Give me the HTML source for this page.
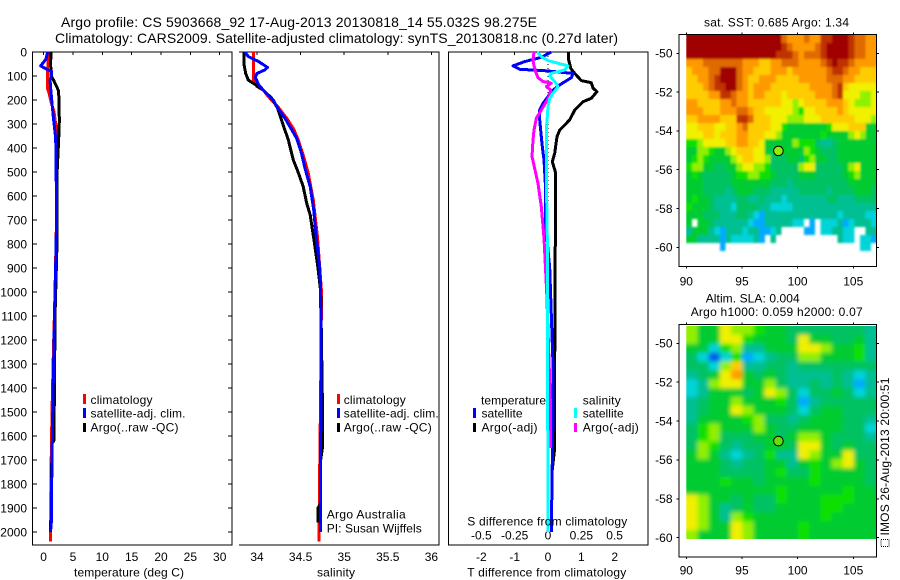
<!DOCTYPE html>
<html><head><meta charset="utf-8"><title>Argo profile</title>
<style>
html,body{margin:0;padding:0;background:#fff}
svg{display:block}
text{font-family:"Liberation Sans",sans-serif;font-size:12px;fill:#000}
.title{font-size:14px}
</style></head>
<body>
<svg id="chart" xmlns="http://www.w3.org/2000/svg" width="900" height="580" viewBox="0 0 900 580">
<defs>
<clipPath id="slaClip"><rect x="686.3" y="326" width="190" height="213"/></clipPath>
<clipPath id="sstClip"><rect x="686.3" y="35" width="190" height="220"/></clipPath>
<filter id="slaBlur" x="-10%" y="-10%" width="120%" height="120%"><feGaussianBlur stdDeviation="2.2"/></filter>
<filter id="sstBlur" x="-5%" y="-5%" width="110%" height="110%"><feGaussianBlur stdDeviation="1.1"/></filter>
</defs>
<rect width="900" height="580" fill="#fff"/>
<text class="title" x="61" y="27" textLength="476" lengthAdjust="spacing">Argo profile: CS 5903668_92 17-Aug-2013 20130818_14 55.032S 98.275E</text>
<text class="title" x="55" y="43" textLength="563" lengthAdjust="spacing">Climatology: CARS2009. Satellite-adjusted climatology: synTS_20130818.nc (0.27d later)</text>
<g id="plots"></g>
<g>
<rect x="83" y="394" width="3" height="10" fill="#f00"/>
<text x="90.5" y="404" textLength="62">climatology</text>
<rect x="83" y="408" width="3" height="10" fill="#00f"/>
<text x="90.5" y="417.5" textLength="95">satellite-adj. clim.</text>
<rect x="83" y="423" width="3" height="9" fill="#000"/>
<text x="90.5" y="431.5" textLength="88">Argo(..raw -QC)</text>
</g>
<g>
<rect x="337" y="394" width="3" height="10" fill="#f00"/>
<text x="343.7" y="404" textLength="62">climatology</text>
<rect x="337" y="408" width="3" height="10" fill="#00f"/>
<text x="343.7" y="417.5" textLength="95">satellite-adj. clim.</text>
<rect x="337" y="423" width="3" height="9" fill="#000"/>
<text x="343.7" y="431.5" textLength="88">Argo(..raw -QC)</text>
<text x="326.7" y="518.5" textLength="79">Argo Australia</text>
<text x="326.7" y="532.5" textLength="95">PI: Susan Wijffels</text>
</g>
<g>
<text x="481" y="404.5" textLength="65">temperature</text>
<rect x="473" y="408" width="3" height="10" fill="#00f"/>
<text x="481.5" y="417.5" textLength="41">satellite</text>
<rect x="473" y="423" width="3" height="9" fill="#000"/>
<text x="481.5" y="431.5" textLength="56">Argo(-adj)</text>
<text x="582.7" y="404.5" textLength="38">salinity</text>
<rect x="574" y="408" width="3" height="10" fill="#0ff"/>
<text x="582.7" y="417.5" textLength="41">satellite</text>
<rect x="574" y="423" width="3" height="9" fill="#f0f"/>
<text x="582.7" y="431.5" textLength="56">Argo(-adj)</text>
</g>
<text x="74" y="576.3" textLength="110">temperature (deg C)</text>
<text x="317" y="576.3" textLength="38">salinity</text>
<text x="467.3" y="576.3" textLength="159">T difference from climatology</text>
<text x="467.3" y="525.3" textLength="160">S difference from climatology</text>
<text x="704" y="26.3" textLength="145">sat. SST: 0.685 Argo: 1.34</text>
<text x="705.7" y="302.3" textLength="94">Altim. SLA: 0.004</text>
<text x="690.7" y="316" textLength="172">Argo h1000: 0.059 h2000: 0.07</text>
<text transform="translate(889,535.5) rotate(-90)" textLength="158">IMOS 26-Aug-2013 20:00:51</text>
<rect x="881" y="539.5" width="8" height="7" fill="none" stroke="#000" stroke-width="1" stroke-dasharray="1 1"/>
</svg>
<script>
// ---- profile data ----
const depthTicks=[0,100,200,300,400,500,600,700,800,900,1000,1100,1200,1300,1400,1500,1600,1700,1800,1900,2000];
const tempTicks=[0,5,10,15,20,25,30];
const salTicks=[34,34.5,35,35.5,36];
const tDiffTicks=[-2,-1,0,1,2];
const sDiffTicks=[-0.5,-0.25,0,0.25,0.5];

const tempClimDepth=[0,60,70,150,170,210,250,300,340,500,700,1000,1300,1500,1700,2040];
const tempClimValue=[0.75,0.75,0.63,0.63,0.92,1.3,1.77,2.06,2.15,2.15,2.2,1.95,1.62,1.43,1.3,1.2];
const tempArgoDepth=[0,50,100,115,150,165,250,280,360,500,830,1100,1400,1620,1630,1770,2000];
const tempArgoValue=[1.26,1.2,1.3,1.65,2.33,2.57,2.63,2.7,2.57,2.3,2.25,1.95,1.85,1.74,1.45,1.35,1.2];
const tempSatDepth=[0,30,58,70,82,100,117,150,200,270,360,617,800,1000,1367,1617,1790,1950,2000];
const tempSatValue=[0.7,0.4,-0.5,0.4,1.38,1.3,1.1,1.2,1.38,1.66,2.06,2.2,2.15,1.95,1.65,1.48,1.38,1.35,1.18];

const salClimDepth=[0,117,144,158,186,228,276,318,367,429,506,617,776,1000,1400,1700,2040];
const salClimValue=[33.958,33.958,34.0,34.07,34.13,34.24,34.34,34.416,34.474,34.53,34.588,34.646,34.695,34.74,34.73,34.72,34.71];
const salArgoDepth=[0,50,89,117,135,158,193,235,305,367,450,499,561,630,679,776,900,1000,1460,1650,1700,1880,1900,1960];
const salArgoValue=[33.85,33.85,33.87,33.9,33.977,34.07,34.17,34.237,34.3,34.36,34.416,34.47,34.53,34.57,34.61,34.65,34.7,34.73,34.75,34.75,34.73,34.73,34.7,34.7];
const salSatDepth=[0,19,40,64,75,89,105,137,158,179,203,235,276,325,360,422,485,561,658,776,900,1000,1367,2000];
const salSatValue=[33.86,33.9,34.02,34.12,34.09,34.0,33.98,34.02,34.07,34.13,34.19,34.24,34.32,34.4,34.455,34.51,34.55,34.61,34.65,34.68,34.72,34.73,34.734,34.726];

const tDiffSatDepth=[0,22,40,58,72,78,89,107,137,165,186,214,242,283,353,394,450,547,721,900,1300,1500,2000];
const tDiffSatValue=[0.1,-0.2,-0.7,-1.05,-0.85,-0.1,0.75,0.7,0.35,0.1,0,-0.15,-0.25,-0.25,-0.2,-0.17,-0.12,-0.08,-0.07,0.05,0.15,0.15,0.1];
const tDiffArgoDepth=[0,33,68,89,119,128,151,165,193,207,242,283,325,353,422,457,499,776,1300,1650,1750];
const tDiffArgoValue=[0.62,0.62,0.68,0.8,1.0,1.3,1.35,1.47,1.3,1.05,0.8,0.65,0.35,0.27,0.2,0.13,0.22,0.22,0.2,0.2,0.12];
const sDiffSatDepth=[0,19,36,58,75,89,100,123,144,172,193,228,325,506,776,2000];
const sDiffSatValue=[-0.08,-0.05,0,0.15,0.125,0.025,0.0125,0.05,0.075,0.0375,0.0125,0,-0.0125,-0.0125,-0.005,0];
const sDiffArgoDepth=[0,33,58,79,107,123,130,144,158,179,207,242,276,325,367,436,485,547,644,776,1000,1500,1650];
const sDiffArgoValue=[-0.105,-0.1125,-0.105,-0.095,-0.075,-0.0375,0.025,-0.0125,0.02,0.0125,-0.0125,-0.05,-0.0875,-0.105,-0.1125,-0.12,-0.1,-0.075,-0.05,-0.03,-0.01,0.02,0.02];

// ---- map data: colour-level per grid cell, null = no data ----
const _=null;
const mapLonTicks=[90,95,100,105];
const mapLatTicks=[-50,-52,-54,-56,-58,-60];
const floatLon=98.275;
const floatLat=-55.03;
const sstLevels=[
[13,13,13,13,13,13,13,13,13,13,13,13,13,13,13,13,13,11,10,10,10,11,10,10,12,12,13,13,13,12,11,11,10,10],
[13,13,13,13,13,13,13,13,13,13,13,13,13,13,13,13,13,12,11,10,10,10,10,11,12,13,13,13,13,12,11,11,10,10],
[13,13,13,13,13,13,13,13,13,13,13,13,13,13,13,13,12,12,12,11,10,11,11,11,12,13,13,13,13,12,11,11,10,10],
[10,10,10,11,11,11,11,11,11,11,10,10,10,9,9,10,10,11,11,11,10,10,10,10,11,12,13,12,12,11,10,10,10,10],
[9,10,10,10,11,11,13,13,13,11,10,10,9,9,9,10,10,10,9,10,10,10,10,10,10,11,12,12,11,10,10,9,9,9],
[9,9,10,10,11,12,13,13,13,11,10,9,9,10,10,10,9,9,9,9,10,10,10,10,10,11,11,11,10,10,9,9,9,9],
[9,9,9,10,11,12,12,13,13,11,10,9,10,10,10,9,9,9,9,9,9,9,10,10,10,10,11,12,9,8,8,8,8,8],
[9,9,9,9,10,10,12,12,11,10,10,9,10,10,9,9,9,8,9,9,9,9,9,10,10,10,11,12,8,8,8,7,7,8],
[10,10,9,9,9,9,10,10,11,10,10,9,9,9,9,9,9,8,8,7,8,9,9,9,9,10,10,10,9,8,7,7,7,8],
[10,10,10,9,9,9,10,10,10,11,11,10,9,9,8,8,8,8,8,7,6,8,8,9,9,9,9,10,9,8,8,8,8,8],
[9,9,10,10,10,10,9,9,9,12,12,11,9,9,9,8,8,8,7,7,7,8,8,8,9,9,9,9,9,9,8,8,8,7],
[8,8,9,9,9,8,8,9,9,10,11,9,9,9,9,8,8,6,5,5,5,5,5,5,5,6,8,8,8,9,9,9,5,5],
[8,8,8,9,9,8,9,9,9,10,10,9,9,9,8,8,7,5,5,5,5,5,5,5,6,5,5,5,5,7,8,7,5,5],
[6,6,7,8,8,8,8,9,9,10,10,9,9,8,5,5,5,5,5,7,6,6,6,4,3,3,4,5,5,5,5,5,5,5],
[5,5,7,7,6,5,5,7,8,9,9,9,8,8,5,4,4,5,5,5,5,7,6,5,4,4,4,5,5,5,5,5,5,5],
[5,6,7,6,5,5,5,5,7,8,9,9,8,8,7,4,4,4,5,5,4,6,7,5,5,4,4,5,5,5,5,5,5,5],
[6,7,7,5,5,4,4,5,5,7,8,8,7,7,6,4,4,4,4,4,7,8,8,4,4,4,4,4,5,7,8,5,5,5],
[5,6,5,4,4,4,4,4,5,6,6,7,7,6,6,5,4,4,4,4,5,5,5,4,4,4,4,4,5,6,7,5,5,5],
[5,5,5,4,4,4,4,4,5,5,5,5,5,5,5,4,4,4,3,4,4,4,4,4,4,4,4,4,4,5,5,5,5,5],
[5,5,5,4,4,4,4,3,4,5,5,5,4,4,4,3,3,3,3,3,4,4,4,4,4,3,4,4,4,4,5,5,5,4],
[5,6,5,5,4,3,3,3,3,4,4,3,3,4,3,3,3,2,3,3,3,3,3,3,3,4,4,3,3,3,4,4,4,4],
[6,5,5,5,4,3,3,3,2,4,4,4,4,3,3,2,2,2,2,3,3,3,3,3,3,3,3,3,3,3,3,3,3,3],
[5,5,5,4,4,4,3,3,3,4,4,3,2,1,3,3,3,3,3,3,3,3,3,3,3,3,3,2,3,3,3,3,2,2],
[5,_,5,5,4,3,3,3,3,3,3,2,1,1,3,3,3,3,3,2,2,_,1,_,2,2,2,3,1,2,3,3,3,2],
[3,5,5,5,3,2,1,3,3,3,2,3,3,1,1,2,3,_,_,_,_,1,1,_,2,2,3,3,2,2,_,_,3,3],
[5,5,3,3,3,3,1,3,2,2,2,2,3,1,_,3,_,_,_,_,_,_,_,_,_,_,_,3,2,2,_,2,2,1],
[_,_,_,_,_,_,1,_,_,_,_,_,_,_,_,_,_,_,_,_,_,_,_,_,_,_,_,_,_,_,_,2,2,_]
];
const slaLevels=[
[7,5,5,8,7,7,6,5,5,4,4,4,4,4,4,4,3],
[7,5,5,8,8,6,5,5,5,4,8,5,5,4,4,5,3],
[5,5,2,6,7,3,3,5,5,5,8,8,7,5,5,6,3],
[4,2,0,2,6,1,2,3,4,4,7,7,5,5,5,6,3],
[4,4,2,7,9,3,3,4,4,3,4,4,4,4,4,4,4],
[3,4,5,8,10,5,4,5,4,3,3,3,3,4,3,2,3],
[2,3,7,8,8,5,5,7,4,3,3,4,3,4,3,1,3],
[2,3,5,5,5,4,5,8,7,4,2,4,4,5,4,2,3],
[3,4,5,5,7,5,5,5,6,4,1,3,4,4,4,4,4],
[3,4,5,5,8,7,5,5,5,4,2,4,5,5,4,4,4],
[3,5,5,5,5,6,7,4,4,3,4,5,5,5,4,4,3],
[4,6,7,5,5,5,7,5,4,4,5,5,5,5,4,4,2],
[4,6,7,4,4,4,5,5,4,5,7,7,5,4,4,4,3],
[4,7,6,4,3,4,4,5,5,4,8,8,5,4,5,4,4],
[5,7,5,3,2,3,4,6,3,3,8,7,5,5,8,4,4],
[5,5,5,4,3,4,4,5,5,3,5,6,5,7,8,5,4],
[5,5,5,4,4,4,4,5,6,4,4,6,5,5,5,5,4],
[5,5,5,6,5,5,4,5,5,5,5,6,5,5,5,5,4],
[5,5,5,5,5,5,5,5,6,5,5,5,5,5,6,5,5],
[8,7,5,5,4,5,4,4,6,5,5,5,6,6,6,5,5],
[8,7,5,3,4,5,4,4,5,5,5,5,6,6,5,5,5],
[8,7,5,3,7,6,5,5,5,5,5,5,6,5,5,5,5],
[8,7,5,5,8,7,5,5,5,5,6,5,5,5,5,5,5],
[7,5,5,5,8,7,5,5,5,5,6,5,5,5,5,5,5]
];
const levelColors=["#0058e8","#00aaff","#00d4d8","#00bf92","#00c262","#00cc30","#10e000","#90f000","#f0f000","#ffcc00","#ff9900","#e06a00","#c03000","#a00000"];

// ---- axis functions ----
const NS="http://www.w3.org/2000/svg";
const plots=document.getElementById("plots");
const yDepth=d=>52+0.24*d;
const xTemp=t=>43.6+5.87*t;
const xSal=s=>257+87.2*(s-34);
const xTDiff=t=>548+33.33*t;
const xSDiff=s=>548+133.3*s;
const xLon1=lon=>686.3+11.13*(lon-90);
const yLat1=lat=>53.3-19.4*(lat+50);
const yLat2=lat=>343.3-19.44*(lat+50);

function mk(tag,attrs,parent){
  const el=document.createElementNS(NS,tag);
  for(const k in attrs)el.setAttribute(k,attrs[k]);
  (parent||plots).appendChild(el);
  return el;
}
function seg(x1,y1,x2,y2,parent){
  return mk("line",{x1:x1,y1:y1,x2:x2,y2:y2,stroke:"#000","stroke-width":1,"shape-rendering":"crispEdges"},parent);
}
function txt(x,y,str,anchor,parent){
  const el=mk("text",{x:x,y:y,"text-anchor":anchor},parent);
  el.textContent=str;
  return el;
}
function profile(values,depths,xf,color,width,parent){
  const pts=values.map((v,i)=>xf(v).toFixed(1)+","+yDepth(depths[i]).toFixed(1)).join(" ");
  return mk("polyline",{points:pts,fill:"none",stroke:color,"stroke-width":width,"shape-rendering":"crispEdges","stroke-linejoin":"round"},parent);
}

// frames
const g1=mk("g",{});


const g2=mk("g",{});


const g3=mk("g",{});


const g4=mk("g",{});


const g5=mk("g",{});



// depth ticks + labels (panel 1)
depthTicks.forEach(d=>{
  const y=yDepth(d);
  const a=seg(33,y,37,y,g1);
  
  
  const b=seg(228,y,232,y,g1);
  
  
  const l=txt(27,y+4.3,String(d),"end",g1);
  
  
});
tempTicks.forEach(t=>{
  const x=xTemp(t);
  const a=seg(x,52,x,55,g1);
  
  
  const l=txt(x,561,String(t),"middle",g1);
  
  
});
salTicks.forEach(s=>{
  const x=xSal(s);
  const a=seg(x,52,x,55,g2);
  
  
  const l=txt(x,561,String(s),"middle",g2);
  
  
});
tDiffTicks.forEach(t=>{
  const x=xTDiff(t);
  const a=seg(x,52,x,55,g3);
  
  
  const l=txt(x,561,String(t),"middle",g3);
  
  
});
sDiffTicks.forEach(s=>{
  const l=txt(xSDiff(s),539.3,String(s),"middle",g3);
  
  
});

// frames of the profile panels
const f1=mk("rect",{x:32.5,y:52,width:199.5,height:493,fill:"none",stroke:"#000","stroke-width":1,"shape-rendering":"crispEdges"},g1);


const f2=mk("path",{d:"M239 52H439V545H239",fill:"none",stroke:"#000","stroke-width":1,"shape-rendering":"crispEdges"},g2);


const f3=mk("rect",{x:448.5,y:52,width:199.5,height:493,fill:"none",stroke:"#000","stroke-width":1,"shape-rendering":"crispEdges"},g3);


const zero=mk("line",{x1:xTDiff(0),y1:52,x2:xTDiff(0),y2:yDepth(2000),stroke:"#000","stroke-width":1,"stroke-dasharray":"1 3","shape-rendering":"crispEdges"},g3);



// series
let line;
line=profile(tempClimValue,tempClimDepth,xTemp,"#f00",3,g1);


line=profile(tempArgoValue,tempArgoDepth,xTemp,"#000",3,g1);


line=profile(tempSatValue,tempSatDepth,xTemp,"#00f",3,g1);


line=profile(salClimValue,salClimDepth,xSal,"#f00",3,g2);


line=profile(salArgoValue,salArgoDepth,xSal,"#000",3,g2);


line=profile(salSatValue,salSatDepth,xSal,"#00f",3,g2);


line=profile(tDiffArgoValue,tDiffArgoDepth,xTDiff,"#000",3,g3);


line=profile(tDiffSatValue,tDiffSatDepth,xTDiff,"#00f",3,g3);


line=profile(sDiffArgoValue,sDiffArgoDepth,xSDiff,"#f0f",3,g3);


line=profile(sDiffSatValue,sDiffSatDepth,xSDiff,"#0ff",3,g3);



// SST heat map (slightly softened, edges padded so the blur does not fade at the frame)
const sstClipGroup=mk("g",{"clip-path":"url(#sstClip)"},g4);


const sstBlurGroup=mk("g",{filter:"url(#sstBlur)"},sstClipGroup);
sstLevels.forEach((row,r)=>{
  row.forEach((v,c)=>{
    if(v===null)return;
    const padL=c===0?8:0, padR=c===row.length-1?8:0, padT=r===0?8:0;
    const cell=mk("rect",{x:(686.3+5.6*c-padL).toFixed(1),y:35+8*r-padT,width:(5.7+padL+padR).toFixed(1),height:8.2+padT,fill:levelColors[v],"shape-rendering":"crispEdges"},sstBlurGroup);
    
    
  });
});
// SLA heat map (smoothed)
const slaClip=mk("g",{"clip-path":"url(#slaClip)"},g5);


const slaBlur=mk("g",{filter:"url(#slaBlur)"},slaClip);
const slaW=190/17, slaH=213/24, pad=14;
slaLevels.forEach((row,r)=>{
  row.forEach((v,c)=>{
    const x0=686.3+slaW*c-(c===0?pad:0), y0=326+slaH*r-(r===0?pad:0);
    const x1=686.3+slaW*(c+1)+(c===row.length-1?pad:0), y1=326+slaH*(r+1)+(r===slaLevels.length-1?pad:0);
    const cell=mk("rect",{x:x0.toFixed(1),y:y0.toFixed(1),width:(x1-x0+0.4).toFixed(1),height:(y1-y0+0.4).toFixed(1),fill:levelColors[v]},slaBlur);
    
    
  });
});

// map axes
function mapAxes(group,top,bottom,yLat,labelY,color){
  const frame=mk("rect",{x:679.2,y:top,width:197.4,height:bottom-top,fill:"none",stroke:"#000","stroke-width":1,"shape-rendering":"crispEdges"},group);
  
  
  mapLonTicks.forEach(lon=>{
    const x=xLon1(lon);
    const a=seg(x,top-2,x,top,group);
    
    
    const b=seg(x,bottom,x,bottom+2,group);
    
    
    const l=txt(x,labelY,String(lon),"middle",group);
    
    
  });
  mapLatTicks.forEach(lat=>{
    const y=yLat(lat);
    const a=seg(676.7,y,679.2,y,group);
    
    
    const b=seg(876.6,y,879,y,group);
    
    
    const l=txt(672.5,y+4.3,String(lat),"end",group);
    
    
  });
  const dot=mk("circle",{cx:xLon1(floatLon),cy:yLat(floatLat),r:4.8,fill:color,stroke:"#000","stroke-width":1},group);
  
  
}
mapAxes(g4,34.5,266.7,yLat1,285.5,"#90f000");
mapAxes(g5,324.3,557,yLat2,574.5,"#66e000");
</script>
</body></html>
